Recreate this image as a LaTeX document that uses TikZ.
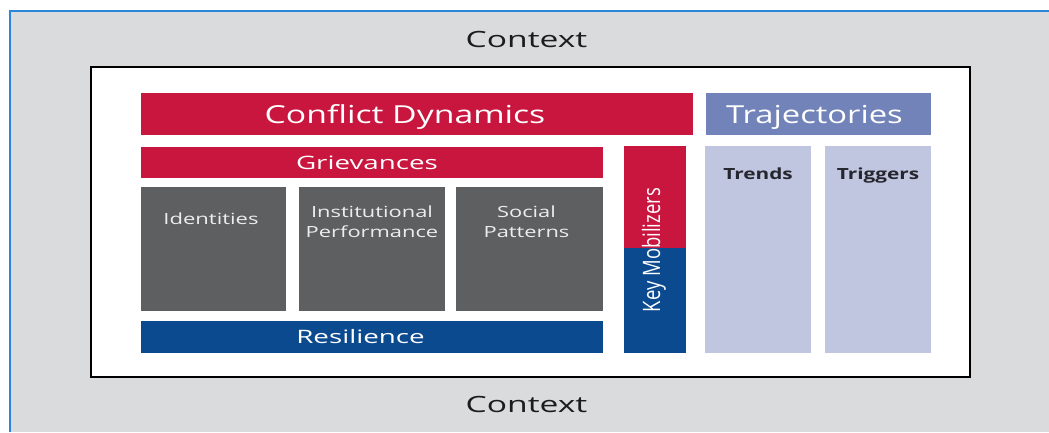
\documentclass[tikz,border=0pt]{standalone}
\usepackage{fontspec}
\setmainfont{Open Sans}
\begin{document}
\definecolor{ctxgray}{HTML}{DADBDD}
\definecolor{frameblue}{HTML}{2A86D6}
\definecolor{cdred}{HTML}{C8163F}
\definecolor{resblue}{HTML}{0C4A8F}
\definecolor{trajblue}{HTML}{7283B9}
\definecolor{lav}{HTML}{C0C6E0}
\definecolor{darkbox}{HTML}{5E5F61}
\definecolor{lighttext}{HTML}{EDEDED}
\definecolor{inktext}{HTML}{25262E}
\definecolor{ctxtext}{HTML}{1C1C1E}
\begin{tikzpicture}[x=1pt,y=-1pt,
  lbl/.style={inner sep=0pt, anchor=base, font=\fontsize{#1}{#1}\selectfont},
  bartext/.style={lbl=#1, text=white},
  boxtext/.style={text=lighttext, font=\fontsize{15.4}{20}\selectfont, align=center, inner sep=0pt},
  coltext/.style={lbl=15.4, text=inktext, font=\fontsize{15.4}{18}\selectfont\bfseries, xscale=1.35}]
\useasboundingbox (0,0) rectangle (1049,432);
% outer context area with blue frame
\fill[white] (0,0) rectangle (1049,432);
\fill[ctxgray] (10,11) rectangle (1049,432);
\draw[frameblue, line width=1.5pt] (9.75,432) -- (9.75,10.75) -- (1049,10.75);
% inner white panel
\draw[black, line width=2pt, fill=white] (91,67) rectangle (970,377);
\node[lbl=22.4, text=ctxtext, xscale=1.5] (ctxtop) at (526.5,47) {Context};
\node[lbl=22.4, text=ctxtext, xscale=1.5] (ctxbot) at (526.5,412) {Context};
% header bars
\fill[cdred] (141,93) rectangle (693,135);
\node[bartext=24.8, xscale=1.36] (cd) at (405,123) {Conflict Dynamics};
\fill[trajblue] (706,93) rectangle (931,135);
\node[bartext=24.8, xscale=1.32] (traj) at (814.5,123) {Trajectories};
% grievances and resilience bands
\fill[cdred] (141,147) rectangle (603,178);
\node[bartext=18.5, xscale=1.5] (griev) at (367,169) {Grievances};
\fill[resblue] (141,321) rectangle (603,353);
\node[bartext=18.5, xscale=1.5] (resil) at (360.5,343.5) {Resilience};
% grievance factors
\fill[darkbox] (141,187) rectangle (286,311);
\fill[darkbox] (299,187) rectangle (445,311);
\fill[darkbox] (456,187) rectangle (603,311);
\node[boxtext, xscale=1.43] (ident) at (211,218.5) {Identities};
\node[boxtext, xscale=1.42] (inst) at (372,222) {Institutional\\Performance};
\node[boxtext, xscale=1.42] (soc) at (526.5,222) {Social\\Patterns};
% key mobilizers column
\fill[cdred] (624,146) rectangle (686,248);
\fill[resblue] (624,248) rectangle (686,353);
\node[rotate=90, text=white, font=\fontsize{24}{24}\selectfont, xscale=0.77] (keymob) at (654,250) {Key Mobilizers};
% trajectory columns
\fill[lav] (705,146) rectangle (811,353);
\fill[lav] (825,146) rectangle (931,353);
\node[coltext] (trends) at (758,179) {Trends};
\node[coltext] (trig) at (878,179) {Triggers};
\end{tikzpicture}
\end{document}
